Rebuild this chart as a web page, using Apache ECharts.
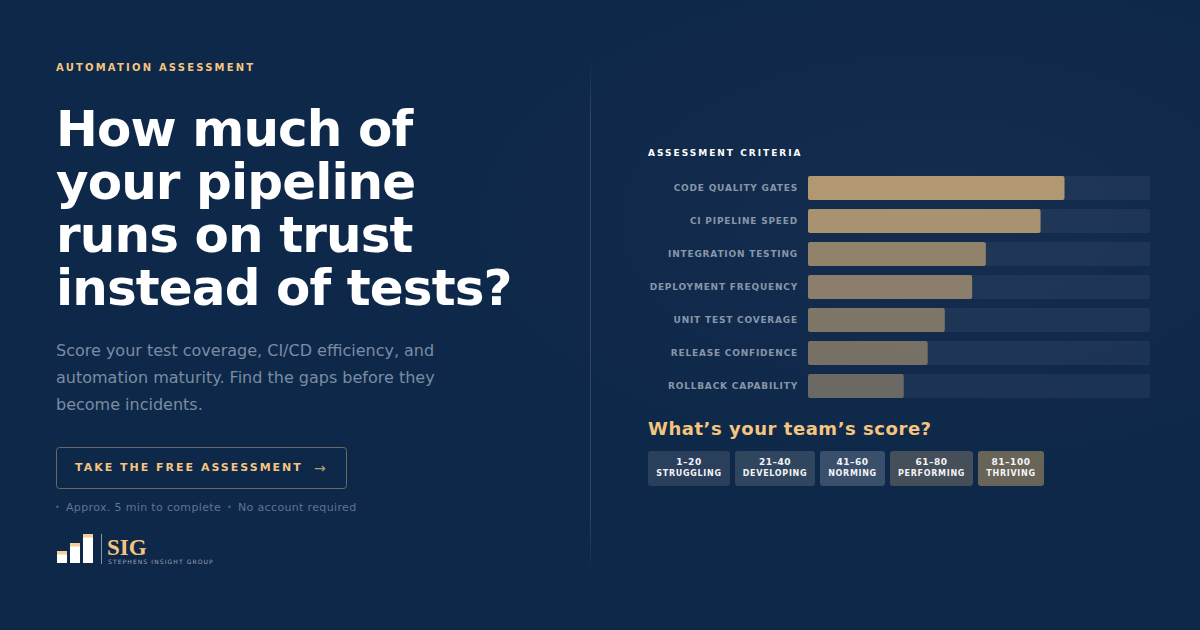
<!DOCTYPE html>
<html><head><meta charset="utf-8">
<style>html,body{margin:0;padding:0;background:#0e2849}#c{width:1200px;height:630px}</style>
<script src="https://cdn.jsdelivr.net/npm/echarts@6/dist/echarts.min.js"></script>
</head><body><div id="c"></div>
<script>
const categories=['CODE QUALITY GATES','CI PIPELINE SPEED','INTEGRATION TESTING','DEPLOYMENT FREQUENCY','UNIT TEST COVERAGE','RELEASE CONFIDENCE','ROLLBACK CAPABILITY'];
const values=[75,68,52,48,40,35,28];
const headline=['How much of','your pipeline','runs on trust','instead of tests?'];
const intro=['Score your test coverage, CI/CD efficiency, and','automation maturity. Find the gaps before they','become incidents.'];
const scoreRanges=['1–20','21–40','41–60','61–80','81–100'];
const scoreNames=['STRUGGLING','DEVELOPING','NORMING','PERFORMING','THRIVING'];
const FONT='"DejaVu Sans"';
const pillBox=[[648,82,'#2a3f5c'],[735,80,'#30465f'],[820,65,'#3a4f6b'],[890,83,'#454f59'],[978,66,'#686457']];
function txt(x,y,text,size,weight,fill,opts){return Object.assign({type:'text',x,y,silent:true,style:Object.assign({text,fill,font:weight+' '+size+'px '+FONT,textVerticalAlign:'middle'},opts||{})});}
const g=[];
g.push({type:'rect',shape:{x:0,y:0,width:1200,height:630},silent:true,style:{fill:new echarts.graphic.RadialGradient(.78,.35,.42,[{offset:0,color:'#152d4e'},{offset:1,color:'#0e2849'}])}});
g.push({type:'rect',shape:{x:590,y:56,width:1,height:520},silent:true,style:{fill:new echarts.graphic.LinearGradient(0,0,0,1,[{offset:0,color:'rgba(255,255,255,0)'},{offset:.12,color:'rgba(255,255,255,.14)'},{offset:.88,color:'rgba(255,255,255,.14)'},{offset:1,color:'rgba(255,255,255,0)'}])}});
g.push(txt(56,67.5,'AUTOMATION ASSESSMENT',10,'bold','#f5c57f'));
headline.forEach((s,i)=>g.push(txt(56,129+i*53,s,50,'bold','#ffffff')));
intro.forEach((s,i)=>g.push(txt(56,350.5+i*27,s,16,'normal','#7b8ca3')));
g.push({type:'rect',shape:{x:56.5,y:447.5,width:290,height:41,r:3},silent:true,style:{fill:'none',stroke:'#6b6a62',lineWidth:1}});
g.push(txt(75,467.5,'TAKE THE FREE ASSESSMENT',11,'bold','#f5c57f'));
g.push(txt(314,468,'→',14,'normal','#b79d74'));
g.push(txt(55,507.5,'•',8,'normal','#4d6580'));
g.push(txt(66,507.5,'Approx. 5 min to complete',11,'normal','#5f7590'));
g.push(txt(227,507.5,'•',8,'normal','#4d6580'));
g.push(txt(238,507.5,'No account required',11,'normal','#5f7590'));
[[57,551,10,12],[70,543,10,20],[83,534,10,29]].forEach(r=>{
 g.push({type:'rect',shape:{x:r[0],y:r[1],width:r[2],height:r[3]},silent:true,style:{fill:'#ffffff'}});
 g.push({type:'rect',shape:{x:r[0],y:r[1],width:r[2],height:3.5},silent:true,style:{fill:'#f3cf98'}});
});
g.push({type:'rect',shape:{x:101,y:534,width:1,height:30},silent:true,style:{fill:'#8c94a0'}});
g.push({type:'text',x:107,y:547,silent:true,style:{text:'SIG',fill:'#f5c57f',font:'bold 23px "Liberation Serif"',textVerticalAlign:'middle'}});
g.push(txt(108,561.5,'STEPHENS INSIGHT GROUP',6,'normal','#9aa6b8'));
g.push(txt(648,153,'ASSESSMENT CRITERIA',9,'bold','#ffffff'));
g.push(txt(648,428,'What’s your team’s score?',18,'bold','#f5c57f'));
pillBox.forEach((p,i)=>{
 g.push({type:'rect',shape:{x:p[0],y:451,width:p[1],height:35,r:3},silent:true,style:{fill:p[2]}});
 g.push(txt(p[0]+p[1]/2,462,scoreRanges[i],9,'bold','#f3f4f6',{textAlign:'center'}));
 g.push(txt(p[0]+p[1]/2,473.5,scoreNames[i],8,'bold','#f3f4f6',{textAlign:'center'}));
});
const chart=echarts.init(document.getElementById('c'),null,{renderer:'svg',width:1200,height:630});
chart.setOption({animation:false,
 grid:{left:808,top:171.5,width:342,height:231,containLabel:false},
 xAxis:{type:'value',min:0,max:100,show:false},
 yAxis:{type:'category',inverse:true,data:categories,axisLine:{show:false},axisTick:{show:false},
  axisLabel:{margin:10,color:'#8896a9',fontFamily:FONT,fontSize:9,fontWeight:'bold',align:'right'}},
 series:[{type:'bar',data:values,barWidth:24,showBackground:true,
  backgroundStyle:{color:'rgba(255,255,255,.05)',borderRadius:2},
  itemStyle:{borderRadius:2,color:p=>'rgba(245,197,127,'+(.18+.0068*p.value).toFixed(3)+')'}}],
 graphic:{elements:g}
});
const spacing=[[/AUTOMATION ASSESSMENT/,2.2],[/TAKE THE FREE/,2],[/ASSESSMENT CRITERIA/,2],[/STEPHENS/,1.1],[/What’s/,.54],[/^Approx|^No account/,.35],[/^(How much|your pipeline|runs on|instead of)/,-.9]];
function applySpacing(){
 document.querySelectorAll('#c svg text').forEach(t=>{
  const s=t.textContent;let ls=null;
  for(const [re,v] of spacing){if(re.test(s)){ls=v;break;}}
  if(ls===null&&scoreRanges.includes(s))ls=.5;
  if(ls===null&&scoreNames.includes(s))ls=.7;
  if(ls===null&&categories.includes(s))ls=.8;
  if(ls!==null)t.style.letterSpacing=ls+'px';
 });
}
applySpacing();chart.on('finished',applySpacing);
</script></body></html>
